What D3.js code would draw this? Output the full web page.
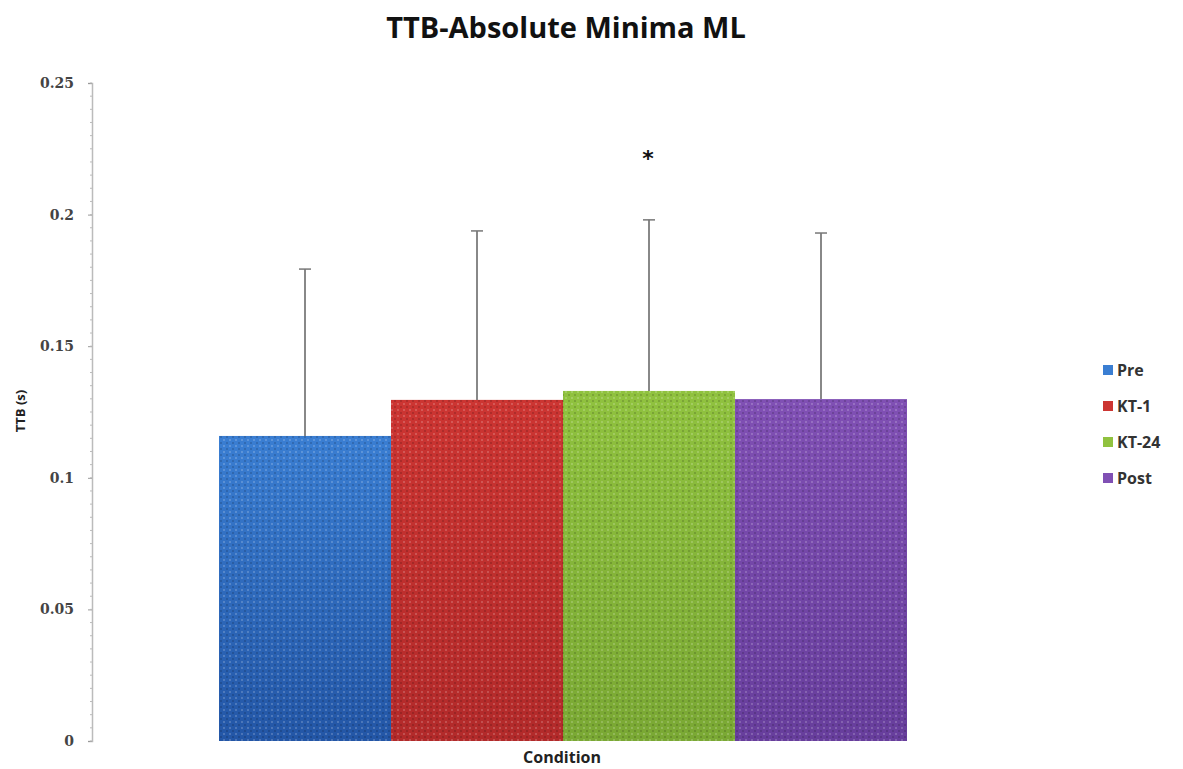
<!DOCTYPE html>
<html><head><meta charset="utf-8">
<script src="https://cdn.jsdelivr.net/npm/d3@7"></script>
<style>body{margin:0;background:#fff;} svg{display:block;}</style>
</head><body>
<svg id="c" width="1183" height="769"></svg>
<script>
const categories = ["Pre", "KT-1", "KT-24", "Post"];
const means = [0.1159, 0.1296, 0.1330, 0.1299];
const errTops = [0.1793, 0.1938, 0.1980, 0.1930];
const yTicks = [0, 0.05, 0.1, 0.15, 0.2, 0.25];
const yTickLabels = ["0", "0.05", "0.1", "0.15", "0.2", "0.25"];
const colorsTop = ["#3a7ed2", "#cc3532", "#90c23f", "#8050b4"];
const colorsBot = ["#2356a6", "#b22a2a", "#7aa834", "#673e9c"];
const significant = [false, false, true, false];

const svg = d3.select("#c");
const defs = svg.append("defs");
categories.forEach((c, i) => {
  const g = defs.append("linearGradient").attr("id", "g" + i)
    .attr("x1", 0).attr("y1", 0).attr("x2", 0).attr("y2", 1);
  g.append("stop").attr("offset", "0%").attr("stop-color", colorsTop[i]);
  g.append("stop").attr("offset", "100%").attr("stop-color", colorsBot[i]);
});
const pat = defs.append("pattern").attr("id", "dots").attr("width", 6).attr("height", 6)
  .attr("patternUnits", "userSpaceOnUse");
pat.append("rect").attr("x", 1).attr("y", 1).attr("width", 2).attr("height", 2).attr("fill", "rgba(255,255,255,0.18)");
pat.append("rect").attr("x", 4).attr("y", 4).attr("width", 2).attr("height", 2).attr("fill", "rgba(0,0,0,0.15)");

const y = d3.scaleLinear().domain([0, 0.25]).range([741, 83]);
const x = d3.scaleBand().domain(categories).range([219, 907]).padding(0);

// y axis
const axisX = 92;
const yAxis = d3.axisLeft(y).tickValues(yTicks).tickFormat((d, i) => yTickLabels[i]).tickSize(4).tickPadding(14);
const ga = svg.append("g").attr("transform", `translate(${axisX},0)`).call(yAxis);
ga.select(".domain").attr("stroke", "#bbb").attr("stroke-width", 1.5);
ga.selectAll(".tick line").attr("stroke", "#999");
ga.selectAll(".tick text").attr("font-family", "DejaVu Serif, serif").attr("font-weight", "bold")
  .attr("font-size", 14).attr("fill", "#444");
// minor ticks
const minor = d3.range(0, 0.2501, 0.005);
svg.append("g").selectAll("line").data(minor).join("line")
  .attr("x1", axisX - 2).attr("x2", axisX).attr("y1", d => y(d)).attr("y2", d => y(d))
  .attr("stroke", "#bbb").attr("stroke-width", 1);

// bars
svg.append("g").selectAll("rect").data(categories).join("rect")
  .attr("x", d => x(d)).attr("width", x.bandwidth())
  .attr("y", (d, i) => y(means[i])).attr("height", (d, i) => y(0) - y(means[i]))
  .attr("fill", (d, i) => `url(#g${i})`);
svg.append("g").selectAll("rect").data(categories).join("rect")
  .attr("x", d => x(d)).attr("width", x.bandwidth())
  .attr("y", (d, i) => y(means[i])).attr("height", (d, i) => y(0) - y(means[i]))
  .attr("fill", "url(#dots)");

// error bars
const eb = svg.append("g");
categories.forEach((c, i) => {
  const cx = x(c) + x.bandwidth() / 2;
  eb.append("line").attr("x1", cx).attr("x2", cx).attr("y1", y(means[i])).attr("y2", y(errTops[i]))
    .attr("stroke", "#888").attr("stroke-width", 2);
  eb.append("line").attr("x1", cx - 6).attr("x2", cx + 6).attr("y1", y(errTops[i])).attr("y2", y(errTops[i]))
    .attr("stroke", "#777").attr("stroke-width", 1.5);
  if (significant[i]) {
    svg.append("text").attr("x", cx - 1).attr("y", 166).attr("text-anchor", "middle")
      .attr("font-family", "DejaVu Sans, sans-serif").attr("font-weight", "bold").attr("font-size", 22).attr("fill", "#111").text("*");
  }
});

// title
svg.append("text").attr("x", 566).attr("y", 38).attr("text-anchor", "middle")
  .attr("font-family", "Open Sans, sans-serif").attr("font-weight", "bold").attr("font-size", 29)
  .attr("fill", "#111").text("TTB-Absolute Minima ML");
// x label
svg.append("text").attr("x", 562).attr("y", 763).attr("text-anchor", "middle")
  .attr("font-family", "Open Sans, sans-serif").attr("font-weight", "bold").attr("font-size", 16)
  .attr("fill", "#222").text("Condition");
// y label
svg.append("text").attr("transform", "translate(25,411) rotate(-90)").attr("text-anchor", "middle")
  .attr("font-family", "Open Sans, sans-serif").attr("font-weight", "bold").attr("font-size", 13)
  .attr("fill", "#222").text("TTB (s)");

// legend
const lg = svg.append("g");
categories.forEach((c, i) => {
  const ly = 370 + i * 36;
  lg.append("rect").attr("x", 1103).attr("y", ly - 5).attr("width", 10).attr("height", 10)
    .attr("fill", colorsTop[i]);
  lg.append("text").attr("x", 1117).attr("y", ly + 6).attr("font-family", "Open Sans, sans-serif")
    .attr("font-weight", "bold").attr("font-size", 16).attr("fill", "#333").text(c);
});
</script>
</body></html>
